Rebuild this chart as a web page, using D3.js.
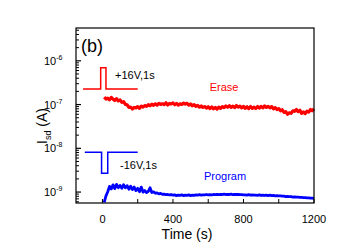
<!DOCTYPE html>
<html><head><meta charset="utf-8">
<script src="https://cdn.jsdelivr.net/npm/d3@7"></script>
<style>body{margin:0;background:#fff}svg{display:block;font-family:"Liberation Sans",Arial,sans-serif}</style>
</head><body><svg id="c" width="349" height="245"></svg>
<script>
// Data (current in nA, time in s)
const times = d3.range(10, 1201, 10);
const eraseNA = [
148,134,141,129,146,133,124,136,121,128,
112,117,101,99,86,88,79,86,84,90,
82,92,87,95,91,99,94,102,96,104,
97,107,101,104,100,110,98,106,103,109,
99,106,97,104,100,108,102,107,97,103,
94,100,91,96,87,93,86,90,83,89,
81,88,80,86,79,87,82,90,85,93,
87,94,86,92,85,95,87,92,84,91,
82,89,81,90,82,87,81,90,83,91,
84,93,86,91,84,90,80,85,77,81,
72,76,66,69,60,65,63,72,70,77,
69,74,63,68,62,71,67,77,72,80];
const programNA = [
0.58,0.82,1.02,1.35,1.18,1.46,1.2,1.5,1.26,1.42,
1.22,1.47,1.25,1.4,1.16,1.36,1.14,1.3,1.08,1.22,
1.02,1.3,1.0,1.08,0.97,1.04,1.25,0.98,1.01,0.94,
0.96,0.91,0.93,0.89,0.9,0.87,0.88,0.86,0.87,0.85,
0.86,0.83,0.85,0.84,0.86,0.83,0.85,0.84,0.86,0.83,
0.85,0.84,0.86,0.85,0.87,0.85,0.86,0.86,0.88,0.86,
0.87,0.86,0.88,0.87,0.89,0.87,0.88,0.88,0.9,0.88,
0.89,0.88,0.9,0.87,0.89,0.88,0.88,0.87,0.87,0.86,
0.86,0.85,0.87,0.85,0.86,0.85,0.85,0.84,0.86,0.84,
0.85,0.84,0.85,0.83,0.85,0.83,0.84,0.82,0.83,0.82,
0.82,0.81,0.81,0.79,0.8,0.79,0.79,0.77,0.78,0.77,
0.77,0.76,0.76,0.75,0.75,0.74,0.74,0.73,0.73,0.72];
const erasePulseT = [-110,-10,-10,20,20,200];
const erasePulseNA = [226,226,690,690,226,226];
const programPulseT = [-100,-5,-5,30,30,200];
const programPulseNA = [8.1,8.1,2.7,2.7,8.1,8.1];
const xTicks = [0,400,800,1200];
const xMinorTicks = [200,600,1000];
const yDecades = [-9,-8,-7,-6];
const nA = 1e-9;

const svg = d3.select("#c");
const L=76,R=314,T=28,B=203;
const x = d3.scaleLinear().domain([-150,1200]).range([L,R]);
const y = d3.scaleLog().domain([Math.pow(10,-9.25),Math.pow(10,-5.25)]).range([B,T]);

const line = d3.line().x(d=>x(d[0])).y(d=>y(d[1]*nA));

svg.append("path").datum(d3.zip(times,eraseNA)).attr("d",line)
  .attr("fill","none").attr("stroke","#ff0000").attr("stroke-width",3.2).attr("stroke-linejoin","round");
svg.append("path").datum(d3.zip(times,programNA)).attr("d",line)
  .attr("fill","none").attr("stroke","#0000ff").attr("stroke-width",2.8).attr("stroke-linejoin","round");
svg.append("path").datum(d3.zip(erasePulseT,erasePulseNA)).attr("d",line)
  .attr("fill","none").attr("stroke","#ff0000").attr("stroke-width",1.5);
svg.append("path").datum(d3.zip(programPulseT,programPulseNA)).attr("d",line)
  .attr("fill","none").attr("stroke","#0000ff").attr("stroke-width",1.5);

// frame
svg.append("rect").attr("x",L).attr("y",T).attr("width",R-L).attr("height",B-T)
  .attr("fill","none").attr("stroke","#000").attr("stroke-width",1.2);

// y ticks
const yMinor=[];
for(let e=-10;e<=-6;e++) for(let m=2;m<=9;m++){const v=m*Math.pow(10,e); if(v>y.domain()[0]&&v<y.domain()[1]) yMinor.push(v);}
svg.selectAll(".ymin").data(yMinor).join("line").attr("x1",L).attr("x2",L+3)
  .attr("y1",d=>y(d)).attr("y2",d=>y(d)).attr("stroke","#000").attr("stroke-width",1);
svg.selectAll(".ymaj").data(yDecades).join("line").attr("x1",L).attr("x2",L+5)
  .attr("y1",d=>y(Math.pow(10,d))).attr("y2",d=>y(Math.pow(10,d))).attr("stroke","#000").attr("stroke-width",1.2);
const yl = svg.selectAll(".ylab").data(yDecades).join("text")
  .attr("x",44).attr("y",d=>y(Math.pow(10,d))+4).attr("font-size",11).attr("fill","#000");
yl.append("tspan").text("10");
yl.append("tspan").attr("font-size",7).attr("dy",-5).text(d=>String(d));

// x ticks
svg.selectAll(".xt").data(xTicks.concat(xMinorTicks)).join("line").attr("x1",d=>x(d)).attr("x2",d=>x(d))
  .attr("y1",B).attr("y2",B-4).attr("stroke","#000").attr("stroke-width",1);
svg.selectAll(".xl").data(xTicks).join("text").attr("x",d=>x(d)).attr("y",223)
  .attr("text-anchor","middle").attr("font-size",11).text(d=>d);

// axis titles
svg.append("text").attr("x",187).attr("y",239).attr("text-anchor","middle").attr("font-size",14).text("Time (s)");
const yt = svg.append("text").attr("transform","translate(47,126) rotate(-90)").attr("text-anchor","middle").attr("font-size",14);
yt.append("tspan").text("I");
yt.append("tspan").attr("font-size",9).attr("dy",4).text("sd");
yt.append("tspan").attr("dy",-4).text(" (A)");

// annotations
svg.append("text").attr("x",81).attr("y",52).attr("font-size",18).text("(b)");
svg.append("text").attr("x",115).attr("y",79).attr("font-size",11).text("+16V,1s");
svg.append("text").attr("x",120).attr("y",169).attr("font-size",11).text("-16V,1s");
svg.append("text").attr("x",224).attr("y",91).attr("text-anchor","middle").attr("font-size",11).attr("fill","#ff0000").text("Erase");
svg.append("text").attr("x",225).attr("y",180).attr("text-anchor","middle").attr("font-size",11).attr("fill","#0000ff").text("Program");
</script></body></html>
